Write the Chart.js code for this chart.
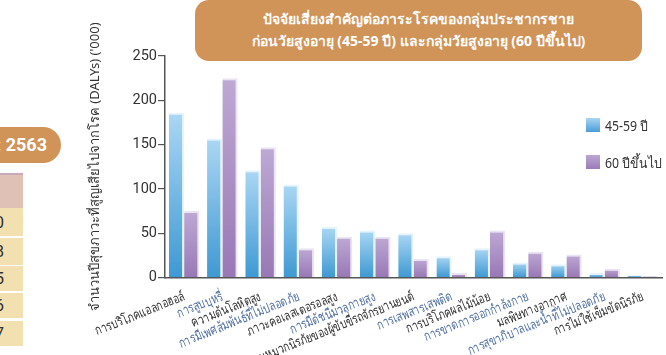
<!DOCTYPE html>
<html>
<head>
<meta charset="utf-8">
<script src="https://cdn.jsdelivr.net/npm/chart.js@4.4.1/dist/chart.umd.min.js"></script>
<style>
  html, body { margin:0; padding:0; background:#fff; }
  body { width:666px; height:355px; position:relative; overflow:hidden; font-family:"Noto Sans","DejaVu Sans",sans-serif; }
  #c { position:absolute; left:0; top:0; }
  .title { position:absolute; left:195px; top:0; width:447px; height:61px; background:#d09358; border-radius:14px;
           color:#fff; font-weight:bold; font-size:14px; text-align:center; line-height:22px; padding-top:8px; box-sizing:border-box; }
  .pill { position:absolute; left:-40px; top:127px; width:101px; height:36px; background:#d09358; border-radius:18px;
          color:#fff; font-weight:bold; font-family:Roboto,sans-serif; font-size:18px; line-height:36px; text-align:right; box-sizing:border-box; padding-right:14px; }
  .cell { position:absolute; left:-40px; width:63px; background:#f3e0b0; color:#333; font-family:Roboto,sans-serif; font-size:17px; text-align:right; box-sizing:border-box; padding-right:19px; }
  .hdr { position:absolute; left:-40px; width:63px; top:173px; height:35px; background:#dfc1b5; border-top:2px solid #c9a8b8; box-sizing:border-box; }
  .legend { position:absolute; left:586px; font-size:14px; color:#333; white-space:nowrap; }
  .legend span.sw { display:inline-block; width:14px; height:14px; vertical-align:middle; margin-right:5px; position:relative; top:-1px; }
  .legend span.tx { display:inline-block; transform:scaleX(0.88); transform-origin:left center; vertical-align:middle; }
</style>
</head>
<body>
<div class="pill">: 2563</div>
<div class="hdr"></div>
<div id="tbl"></div>
<canvas id="c" width="666" height="355"></canvas>
<div class="title">ปัจจัยเสี่ยงสำคัญต่อภาระโรคของกลุ่มประชากรชาย<br>ก่อนวัยสูงอายุ (45-59 ปี) และกลุ่มวัยสูงอายุ (60 ปีขึ้นไป)</div>
<div id="leg"></div>
<script>
const categories = [
  "การบริโภคแอลกอฮอล์",
  "การสูบบุหรี่",
  "ความดันโลหิตสูง",
  "การมีเพศสัมพันธ์ที่ไม่ปลอดภัย",
  "ภาวะคอเลสเตอรอลสูง",
  "การมีดัชนีมวลกายสูง",
  "ไม่สวมหมวกนิรภัยของผู้ขับขี่รถจักรยานยนต์",
  "การเสพสารเสพติด",
  "การบริโภคผลไม้น้อย",
  "การขาดการออกกำลังกาย",
  "มลพิษทางอากาศ",
  "การสุขาภิบาลและน้ำที่ไม่ปลอดภัย",
  "การไม่ใช้เข็มขัดนิรภัย"
];
const age45to59 = [186, 157, 121, 105, 57, 53, 50, 24, 33, 17, 15, 5, 2.5];
const age60plus = [75, 225, 147, 33, 46, 46, 21, 5, 53, 29, 26, 10, 1.5];
const seriesNames = ["45-59 ปี", "60 ปีขึ้นไป"];
const yTicks = [0, 50, 100, 150, 200, 250];
const tableDigits = ["0", "8", "5", "6", "7"];

// left decoration table
const rows = [[208,28],[238,27],[266,25],[293,25],[321,25]];
const tbl = document.getElementById('tbl');
rows.forEach((r, i) => {
  const d = document.createElement('div');
  d.className = 'cell';
  d.style.top = r[0] + 'px'; d.style.height = r[1] + 'px'; d.style.lineHeight = r[1] + 'px';
  d.textContent = '1' + tableDigits[i];
  tbl.appendChild(d);
});

// HTML legend
const swatches = ['linear-gradient(#a8d5f2,#4a9fd6)', 'linear-gradient(#bca6d3,#9b7cb7)'];
const legTops = [115, 152];
const leg = document.getElementById('leg');
seriesNames.forEach((n, i) => {
  const d = document.createElement('div');
  d.className = 'legend';
  d.style.top = legTops[i] + 'px';
  const s = document.createElement('span'); s.className = 'sw'; s.style.background = swatches[i];
  const t = document.createElement('span'); t.className = 'tx'; t.textContent = n;
  d.appendChild(s); d.appendChild(t);
  leg.appendChild(d);
});

function barGradient(top, bottom) {
  return (ctx) => {
    const chart = ctx.chart;
    const y = chart.scales && chart.scales.y;
    if (!chart.chartArea || !y || ctx.raw === undefined) return bottom;
    const yTop = y.getPixelForValue(ctx.raw);
    const yBot = y.getPixelForValue(0);
    const g = chart.ctx.createLinearGradient(0, yTop, 0, yBot);
    g.addColorStop(0, top);
    g.addColorStop(1, bottom);
    return g;
  };
}

// condense text drawn by a scale (narrow font look)
function condense(scale, method, factor) {
  if (!scale || scale['_c_' + method]) return;
  const orig = scale[method];
  scale[method] = function(...args) {
    const ctx = this.ctx;
    const of = ctx.fillText;
    ctx.fillText = function(t, x, y, mw) {
      this.save();
      this.scale(factor, 1);
      of.call(this, t, x / factor, y);
      this.restore();
    };
    try { orig.apply(this, args); } finally { ctx.fillText = of; }
  };
  scale['_c_' + method] = true;
}
const condensePlugin = {
  id: 'condense',
  beforeDraw(chart) {
    condense(chart.scales.x, 'drawLabels', 0.74);
  }
};

new Chart(document.getElementById('c'), {
  type: 'bar',
  data: {
    labels: categories,
    datasets: [
      { label: seriesNames[0], data: age45to59, backgroundColor: barGradient('#abd7f4', '#3e99d3'),
        borderColor: 'rgba(225,242,252,0.9)', borderWidth: {top: 2, right: 2, left: 0, bottom: 0}, borderSkipped: 'bottom',
        categoryPercentage: 0.8, barPercentage: 1 },
      { label: seriesNames[1], data: age60plus, backgroundColor: barGradient('#bea9d4', '#9878b5'),
        borderColor: 'rgba(232,224,241,0.9)', borderWidth: {top: 2, right: 2, left: 0, bottom: 0}, borderSkipped: 'bottom',
        categoryPercentage: 0.8, barPercentage: 1 }
    ]
  },
  plugins: [condensePlugin],
  options: {
    responsive: false,
    devicePixelRatio: 1,
    animation: false,
    layout: { padding: { top: 56, right: 4, left: 0, bottom: 0 } },
    plugins: { legend: { display: false }, tooltip: { enabled: false } },
    scales: {
      x: {
        grid: { display: false },
        border: { display: true, color: '#555', width: 1.5 },
        ticks: {
          autoSkip: false, maxRotation: 22, minRotation: 22, padding: 3,
          font: { family: '"Noto Sans","DejaVu Sans",sans-serif', size: 13.5 },
          color: (ctx) => ctx.index % 2 ? '#4f6f9f' : '#2e2e2e'
        },
        afterFit: (s) => { s.height = 77.5; }
      },
      y: {
        min: 0, max: 250,
        afterBuildTicks: (s) => { s.ticks = yTicks.map(v => ({ value: v })); },
        grid: { drawOnChartArea: false, drawTicks: true, tickLength: 7, color: '#555', lineWidth: 1.2 },
        border: { display: true, color: '#555', width: 1.5 },
        ticks: { padding: 1, color: '#333', font: { family: 'Roboto', size: 14.5 } },
        title: { display: true, text: "จำนวนปีสุขภาวะที่สูญเสียไปจากโรค (DALYs) ('000)", color: '#333',
                 font: { family: '"Noto Sans","DejaVu Sans",sans-serif', size: 13 }, padding: { top: 87, bottom: 0 } },
        afterFit: (s) => { s.width = 165; }
      }
    }
  }
});
</script>
</body>
</html>
